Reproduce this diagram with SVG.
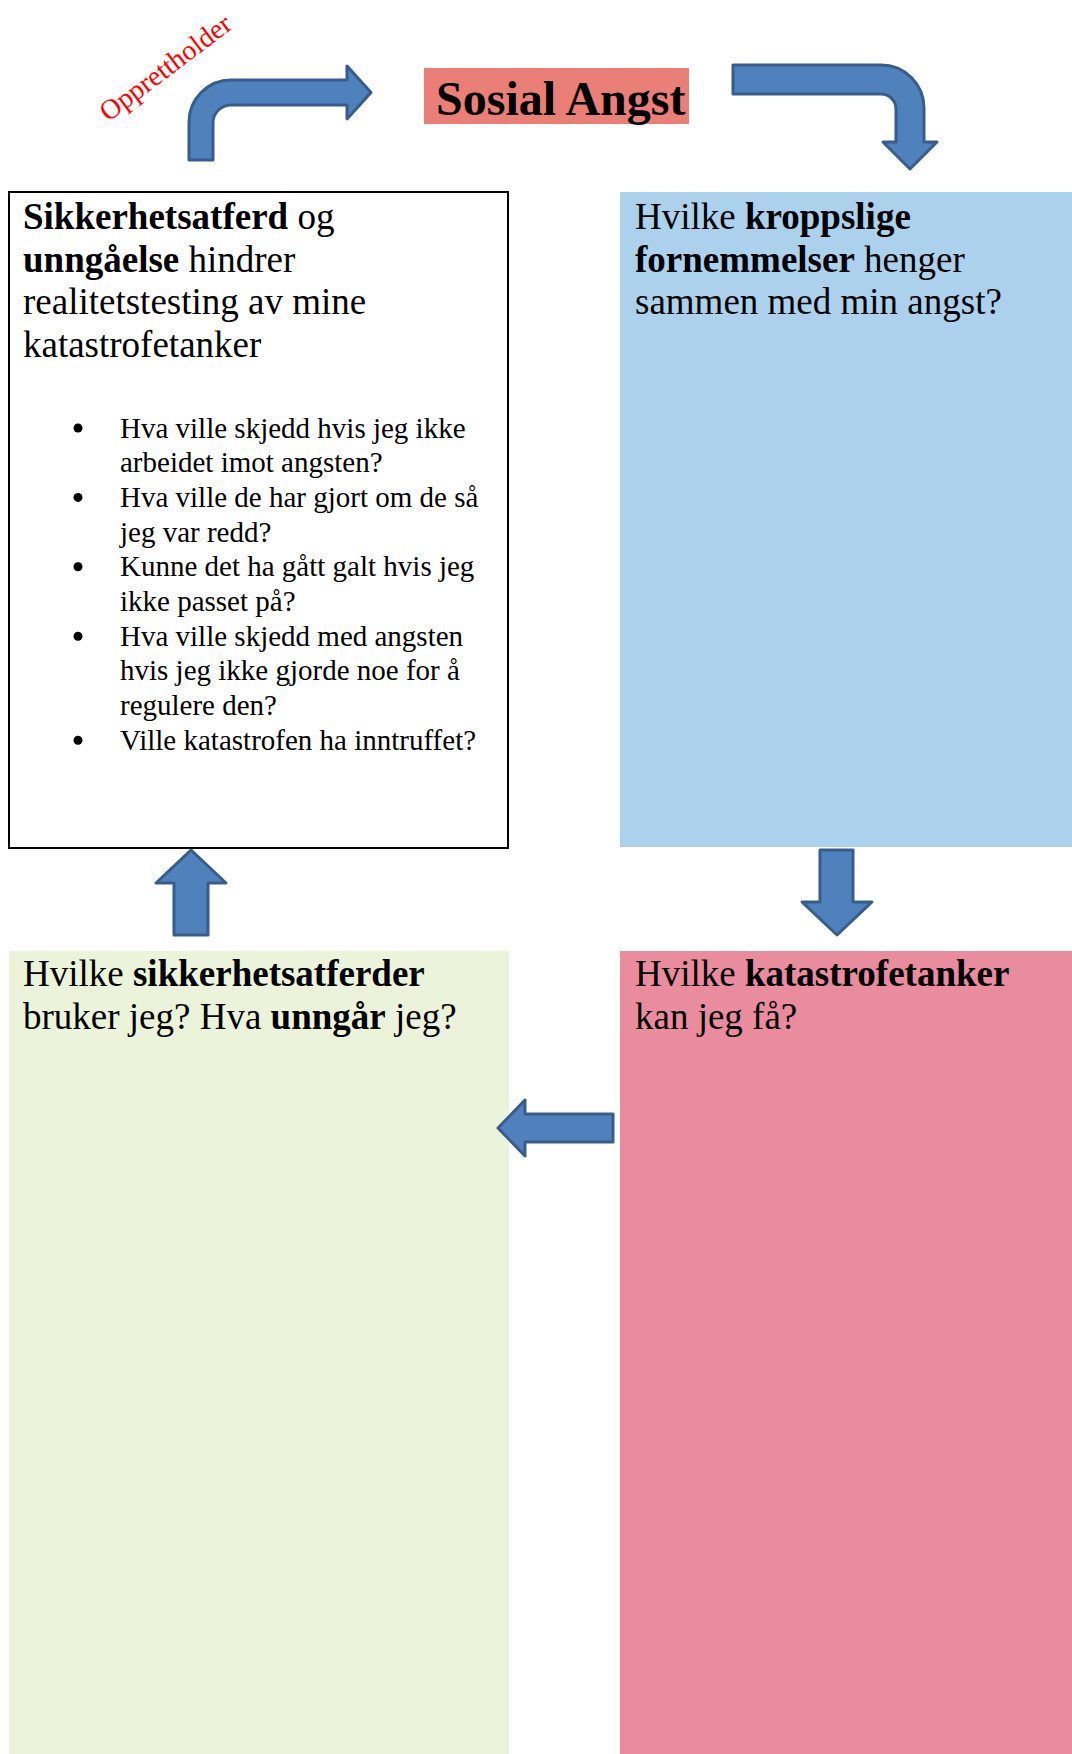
<svg xmlns="http://www.w3.org/2000/svg" width="1072" height="1754" viewBox="0 0 1072 1754">
<style>
.t{font-family:"Liberation Serif","Times New Roman",serif;fill:#000}
.h{font-size:37px}
.s{font-size:29px}
.b{font-weight:bold}
.arrow{fill:#4F81BD;stroke:#385D8A;stroke-width:3;stroke-linejoin:round}
</style>
<rect width="1072" height="1754" fill="#fff"/>
<g id="title">
<rect x="424" y="68" width="265" height="56" fill="#EA7F78"/>
<text class="t b" x="436" y="115" font-size="48">Sosial Angst</text>
</g>
<g id="label-opprettholder">
<text class="t" transform="translate(171,75) rotate(-37)" text-anchor="middle" font-size="28" style="fill:#FF0000">Opprettholder</text>
</g>
<g id="node-sikkerhet">
<rect x="9" y="192" width="499" height="656" fill="#fff" stroke="#000" stroke-width="2"/>
<text class="t h" x="23" y="229"><tspan class="b">Sikkerhetsatferd</tspan> og</text>
<text class="t h" x="23" y="271.5"><tspan class="b">unngåelse</tspan> hindrer</text>
<text class="t h" x="23" y="314">realitetstesting av mine</text>
<text class="t h" x="23" y="356.5">katastrofetanker</text>
<g fill="#000">
<circle cx="78" cy="428" r="4.5"/>
<circle cx="78" cy="497.4" r="4.5"/>
<circle cx="78" cy="566.8" r="4.5"/>
<circle cx="78" cy="636.2" r="4.5"/>
<circle cx="78" cy="740.3" r="4.5"/>
</g>
<text class="t s" x="120" y="437.5">Hva ville skjedd hvis jeg ikke</text>
<text class="t s" x="120" y="472.2">arbeidet imot angsten?</text>
<text class="t s" x="120" y="506.9">Hva ville de har gjort om de så</text>
<text class="t s" x="120" y="541.6">jeg var redd?</text>
<text class="t s" x="120" y="576.3">Kunne det ha gått galt hvis jeg</text>
<text class="t s" x="120" y="611">ikke passet på?</text>
<text class="t s" x="120" y="645.7">Hva ville skjedd med angsten</text>
<text class="t s" x="120" y="680.4">hvis jeg ikke gjorde noe for å</text>
<text class="t s" x="120" y="715.1">regulere den?</text>
<text class="t s" x="120" y="749.8">Ville katastrofen ha inntruffet?</text>
</g>
<g id="node-kropp">
<rect x="620" y="192" width="452" height="655" fill="#ABD1EC"/>
<text class="t h" x="635" y="229">Hvilke <tspan class="b">kroppslige</tspan></text>
<text class="t h" x="635" y="271.5"><tspan class="b">fornemmelser</tspan> henger</text>
<text class="t h" x="635" y="314">sammen med min angst?</text>
</g>
<g id="node-sikkerhetsatferder">
<rect x="9" y="951" width="500" height="803" fill="#EBF4DA"/>
<text class="t h" x="23" y="986">Hvilke <tspan class="b">sikkerhetsatferder</tspan></text>
<text class="t h" x="23" y="1029">bruker jeg? Hva <tspan class="b">unngår</tspan> jeg?</text>
</g>
<g id="node-katastrofe">
<rect x="620" y="951" width="452" height="803" fill="#E88C9E"/>
<text class="t h" x="635" y="986">Hvilke <tspan class="b">katastrofetanker</tspan></text>
<text class="t h" x="635" y="1029">kan jeg få?</text>
</g>
<g id="connectors">
<path class="arrow" d="M189,160 L189,122 A42,42 0 0 1 231,80 L347,80 L347,66 L371,92.5 L347,119 L347,105 L231,105 A18,18 0 0 0 213,123 L213,160 Z"/>
<path class="arrow" d="M733,65 L881,65 A43,43 0 0 1 924,108 L924,142 L937,142 L910,169 L883,142 L896,142 L896,109 A15,15 0 0 0 881,94 L733,94 Z"/>
<path class="arrow" d="M820,850 L853,850 L853,902 L872,902 L837,935 L802,902 L820,902 Z"/>
<path class="arrow" d="M498,1128 L525,1100 L525,1114 L613,1114 L613,1142 L525,1142 L525,1156 Z"/>
<path class="arrow" d="M191,850 L226,883 L208,883 L208,935 L174,935 L174,883 L156,883 Z"/>
</g>
</svg>
